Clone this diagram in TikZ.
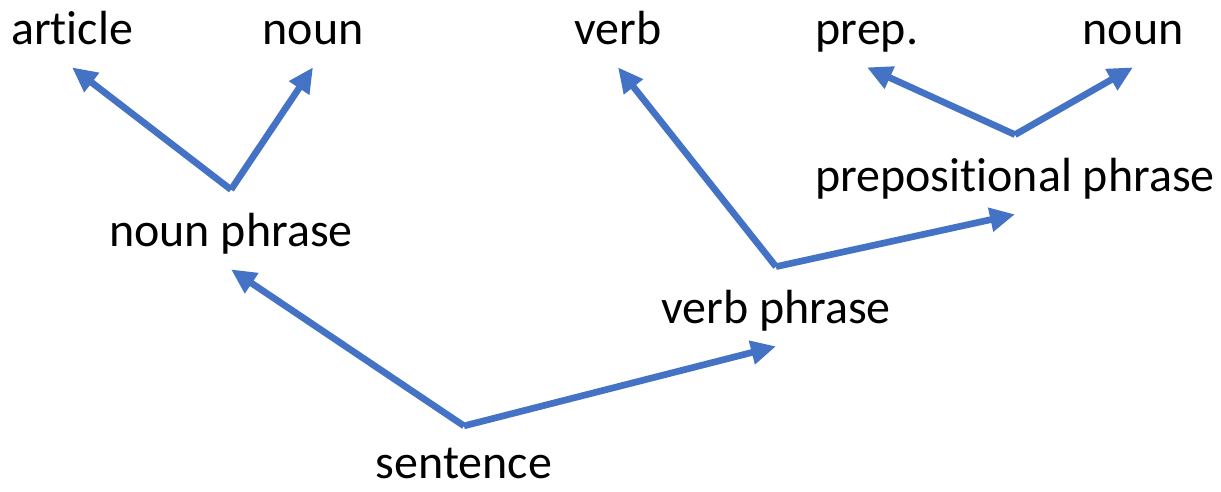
\documentclass[tikz,border=0pt]{standalone}
\usepackage{fontspec}
\setmainfont{Carlito}[Ligatures=NoCommon]
\usepackage{tikz}
\usetikzlibrary{arrows.meta}
\definecolor{brB}{RGB}{68,114,196}

\begin{document}
\begin{tikzpicture}[x=0.02cm,y=-0.02cm,font=\fontsize{27.3}{32}\selectfont,
   w/.style={anchor=base,text height=0.7cm,text depth=0pt,inner xsep=0pt,inner ysep=0.44cm},
   e/.style={draw=brB,line width=3.8pt,-{Triangle[length=0.5cm,width=0.46cm]}}]
\useasboundingbox (0,0) rectangle (1221,492);
%% ---- words (top row) ----
\node[w] (art) at (72,45) {article};
\node[w] (nA) at (313,45) {noun};
\node[w] (vb) at (618,45) {verb};
\node[w] (prp) at (867,45) {prep.};
\node[w] (nB) at (1133,45) {noun};
%% ---- phrases ----
\node[w] (pp) at (1015,192) {prepositional phrase};
\node[w] (np) at (231,247) {noun phrase};
\node[w] (vp) at (776,324) {verb phrase};
\node[w,inner ysep=1pt] (s) at (464,479) {sentence};
\coordinate (sf) at ([yshift=0.32cm]s.north);   % root of the tree
%% ---- branches ----
\draw[e] (sf)--(np.south);
\draw[e] (sf)--(vp.south);
\draw[e] (np.north)--(art.south);
\draw[e] (np.north)--(nA.south);
\draw[e] (vp.north)--(vb.south);
\draw[e] (vp.north)--(pp.south);   % verb phrase takes the PP
\draw[e] (pp.north)--(prp.south);
\draw[e] (pp.north)--(nB.south);
\end{tikzpicture}
\end{document}
